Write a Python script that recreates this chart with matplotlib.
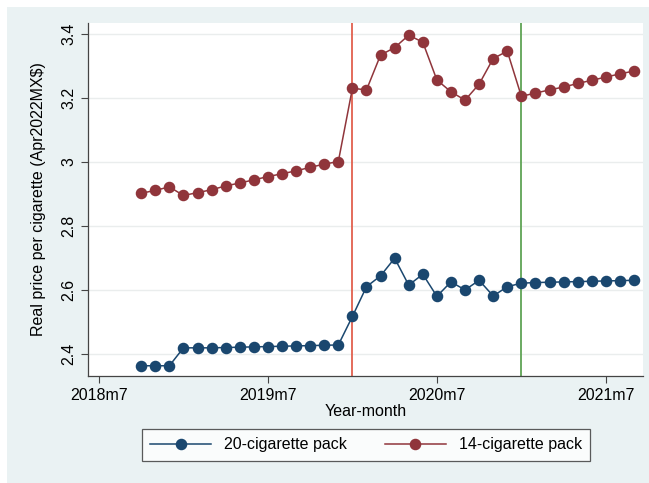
import pandas as pd
import matplotlib.pyplot as plt
from matplotlib.patches import Rectangle

# months covered by the series, 2018m10 to 2021m9
months = pd.period_range("2018-10", "2021-09", freq="M")

# real price per cigarette (Apr2022 MX$)
pack20 = [2.363, 2.363, 2.363, 2.419, 2.419, 2.419, 2.420, 2.421, 2.422, 2.423, 2.424,
          2.425, 2.426, 2.427, 2.428, 2.517, 2.610, 2.644, 2.699, 2.615, 2.649, 2.580,
          2.625, 2.600, 2.630, 2.581, 2.610, 2.621, 2.623, 2.624, 2.625, 2.626, 2.627,
          2.628, 2.629, 2.630]
pack14 = [2.902, 2.911, 2.922, 2.895, 2.904, 2.913, 2.925, 2.934, 2.944, 2.954, 2.963,
          2.972, 2.983, 2.993, 3.001, 3.230, 3.225, 3.334, 3.357, 3.396, 3.374, 3.256,
          3.219, 3.193, 3.243, 3.323, 3.346, 3.205, 3.215, 3.225, 3.234, 3.245, 3.255,
          3.265, 3.275, 3.284]

tick_months = ["2018-07", "2019-07", "2020-07", "2021-07"]
tick_labels = ["2018m7", "2019m7", "2020m7", "2021m7"]
yticks = [2.4, 2.6, 2.8, 3.0, 3.2, 3.4]
ytick_labels = ["2.4", "2.6", "2.8", "3", "3.2", "3.4"]
event_months = ["2020-01", "2021-01"]
event_colors = ["#e2604e", "#5fa455"]

plt.rcParams["font.family"] = ["Liberation Sans", "DejaVu Sans"]
size = 11.5
navy = "#1a476f"
maroon = "#90353b"
bg = "#eaf2f3"

fig = plt.figure(figsize=(6.49, 4.83), dpi=100, facecolor="white")
fig.patches.append(Rectangle((7 / 649, 0), 1, 1 - 7 / 483, transform=fig.transFigure,
                             facecolor=bg, edgecolor="none", zorder=-1))
ax = fig.add_axes([88 / 649, 1 - 376 / 483, (643 - 88) / 649, (376 - 23) / 483])
ax.set_facecolor("white")

x = [m.ordinal for m in months]
ax.plot(x, pack20, "-o", color=navy, lw=1.1, ms=7.3, label="20-cigarette pack", zorder=3)
ax.plot(x, pack14, "-o", color=maroon, lw=1.1, ms=7.3, label="14-cigarette pack", zorder=3)

for m, c in zip(event_months, event_colors):
    ax.axvline(pd.Period(m, freq="M").ordinal, color=c, lw=1.3, zorder=2)

x0 = pd.Period("2018-07", freq="M").ordinal
ax.set_xlim(x0 - 0.78, x0 + 38.64)
ax.set_ylim(2.331, 3.434)
ax.set_xticks([pd.Period(m, freq="M").ordinal for m in tick_months])
ax.set_xticklabels(tick_labels, fontsize=size)
ax.set_yticks(yticks)
ax.set_yticklabels(ytick_labels, fontsize=size, rotation=90, va="center")
ax.grid(axis="y", color="#eaeded", lw=1.0)
ax.set_axisbelow(True)
ax.tick_params(length=5, width=0.8, color="#444444")
for s in ["top", "right"]:
    ax.spines[s].set_visible(False)
for s in ["left", "bottom"]:
    ax.spines[s].set_color("#444444")
    ax.spines[s].set_linewidth(0.9)

ax.set_xlabel("Year-month", fontsize=size, labelpad=1)
ax.set_ylabel("Real price per cigarette (Apr2022MX$)", fontsize=size, labelpad=11)

leg = fig.legend(loc="center", bbox_to_anchor=(366 / 649, 1 - 445 / 483), ncol=2,
                 fontsize=size, frameon=True, fancybox=False, handlelength=3.8,
                 columnspacing=2.4, borderpad=0.55)
leg.get_frame().set_edgecolor("#333333")
leg.get_frame().set_linewidth(0.9)

fig.savefig("out.png", dpi=100, facecolor=fig.get_facecolor())
